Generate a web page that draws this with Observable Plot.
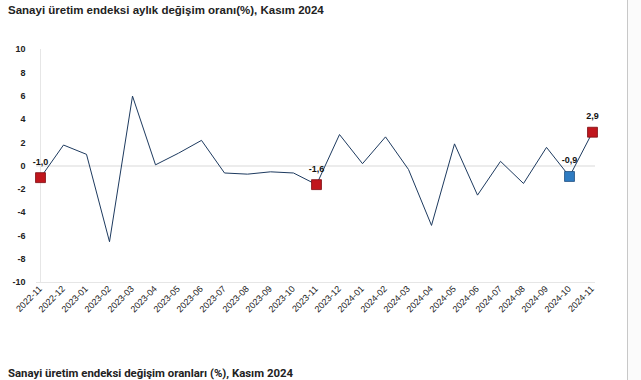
<!DOCTYPE html>
<html>
<head>
<meta charset="utf-8">
<script src="https://cdn.jsdelivr.net/npm/d3@7"></script>
<script src="https://cdn.jsdelivr.net/npm/@observablehq/plot@0.6"></script>
<style>
  body { margin: 0; background: #fff; width: 641px; height: 380px; position: relative; overflow: hidden; }
  .title { position: absolute; left: 8px; font-family: "Liberation Sans", Arial, sans-serif; font-weight: bold; color: #222; white-space: nowrap; }
  #t1 { top: 4px; font-size: 11.5px; }
  #t2 { top: 366px; font-size: 11.4px; font-family: Roboto, "Liberation Sans", sans-serif; }
  #chart { position: absolute; left: 0; top: 0; }
  #side { position: absolute; left: 627px; top: 0; width: 14px; height: 380px; border-left: 1px solid #c8c8c8; background: #fbfbfb; }
</style>
</head>
<body>
<div id="t1" class="title">Sanayi üretim endeksi aylık değişim oranı(%), Kasım 2024</div>
<div id="chart"></div>
<div id="side"></div>
<div id="t2" class="title">Sanayi üretim endeksi değişim oranları (%), Kasım 2024</div>
<script>
const months = ["2022-11","2022-12","2023-01","2023-02","2023-03","2023-04","2023-05","2023-06","2023-07","2023-08","2023-09","2023-10","2023-11","2023-12","2024-01","2024-02","2024-03","2024-04","2024-05","2024-06","2024-07","2024-08","2024-09","2024-10","2024-11"];
const values = [-1.0, 1.8, 1.0, -6.5, 6.0, 0.1, 1.1, 2.2, -0.6, -0.7, -0.5, -0.6, -1.6, 2.7, 0.2, 2.5, -0.3, -5.1, 1.9, -2.5, 0.4, -1.5, 1.6, -0.9, 2.9];
const highlightMonths = ["2022-11", "2023-11", "2024-10", "2024-11"];
const highlightKinds = ["red", "red", "blue", "red"];
const yTicks = [-10, -8, -6, -4, -2, 0, 2, 4, 6, 8, 10];

const data = months.map((m, i) => ({month: m, value: values[i]}));
const hl = highlightMonths.map((m, i) => ({month: m, value: values[months.indexOf(m)], kind: highlightKinds[i]}));
const fmt = v => v.toFixed(1).replace(".", ",");

const chart = Plot.plot({
  width: 641,
  height: 345,
  marginTop: 49,
  marginBottom: 63,
  marginLeft: 36,
  marginRight: 46,
  style: {fontFamily: "Liberation Sans, Arial, sans-serif", fontSize: "9px", color: "#222", background: "transparent"},
  x: {type: "point", domain: months, padding: 0, label: null},
  y: {domain: [-10, 10], label: null},
  marks: [
    Plot.ruleY([0], {stroke: "#d9d9d9", strokeWidth: 1}),
    Plot.ruleY([-10], {stroke: "#e6e6e6", strokeWidth: 1}),
    Plot.ruleX([months[0]], {y1: -10, y2: 10, stroke: "#e6e6e6", strokeWidth: 1}),
    Plot.axisY({ticks: yTicks, tickFormat: d => String(d), tickSize: 0, tickPadding: 11, fontWeight: "bold", fill: "#222", label: null}),
    Plot.axisX({tickRotate: -45, tickSize: 0, tickPadding: 5, fill: "#222", fontSize: 9, label: null}),
    Plot.line(data, {x: "month", y: "value", stroke: "#1d3a5f", strokeWidth: 1}),
    Plot.dot(hl, {x: "month", y: "value", symbol: "square", r: 5.6, fill: d => d.kind === "red" ? "#c0161d" : "#2f7cc2", stroke: d => d.kind === "red" ? "#7d0d12" : "#1f4f80", strokeWidth: 0.8}),
    Plot.text(hl, {x: "month", y: "value", text: d => fmt(d.value), dy: -16, fontWeight: "bold", fontSize: 9, fill: "#111"})
  ]
});
document.getElementById("chart").appendChild(chart);
</script>
</body>
</html>
